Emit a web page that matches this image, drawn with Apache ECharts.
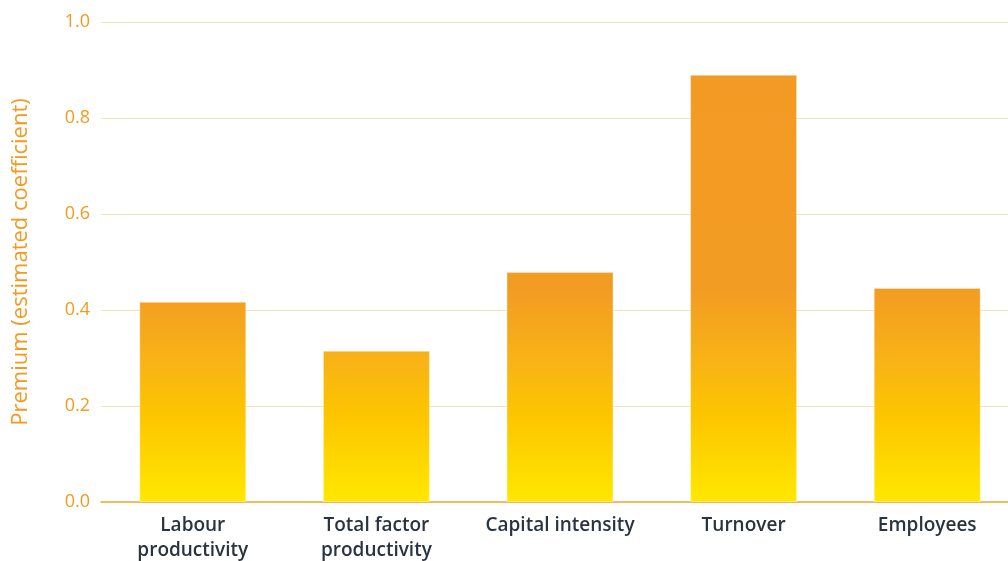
<!DOCTYPE html>
<html>
<head>
<meta charset="utf-8">
<script src="https://cdn.jsdelivr.net/npm/echarts@6/dist/echarts.min.js"></script>
<style>
  html, body { margin: 0; padding: 0; background: #ffffff; }
  #chart { width: 1008px; height: 561px; }
</style>
</head>
<body>
<div id="chart"></div>
<script>
// Estimated premium by firm indicator
const categories = ['Labour\nproductivity', 'Total factor\nproductivity', 'Capital intensity', 'Turnover', 'Employees'];
const premium = [0.417, 0.315, 0.479, 0.890, 0.446];

const orange = '#F39A1E';
const fontFamily = '"Open Sans", "Noto Sans", sans-serif';

const chart = echarts.init(document.getElementById('chart'));

// One gradient across the whole plot height, shared by all bars
const plotTop = 22, plotBottom = 502;
const barFill = new echarts.graphic.LinearGradient(0, plotTop, 0, plotBottom, [
  { offset: 0, color: '#F39A24' },
  { offset: 0.56, color: '#F39C23' },
  { offset: 0.72, color: '#F9B514' },
  { offset: 0.82, color: '#FDC500' },
  { offset: 1, color: '#FFE800' }
], true);

chart.setOption({
  animation: false,
  grid: {
    left: 101, right: -11, top: plotTop, bottom: 561 - plotBottom,
    containLabel: false,
    outerBoundsMode: 'none'
  },
  xAxis: {
    type: 'category',
    data: categories,
    axisLine: { lineStyle: { color: '#F5A93A', width: 1.5 } },
    axisTick: { show: false },
    axisLabel: {
      color: '#2A3340',
      fontFamily: fontFamily,
      fontSize: 19,
      fontWeight: 600,
      lineHeight: 25,
      margin: 11,
      interval: 0
    }
  },
  yAxis: {
    type: 'value',
    min: 0,
    max: 1,
    interval: 0.2,
    name: 'Premium (estimated coefficient)',
    nameLocation: 'middle',
    nameGap: 69,
    nameTextStyle: { color: orange, fontFamily: fontFamily, fontSize: 22, fontWeight: 500 },
    axisLine: { show: false },
    axisTick: { show: false },
    axisLabel: {
      color: orange,
      fontFamily: fontFamily,
      fontSize: 18,
      margin: 11,
      formatter: v => v.toFixed(1)
    },
    splitLine: { lineStyle: { color: '#FBE0B4', width: 1 } }
  },
  series: [{
    type: 'bar',
    data: premium,
    barWidth: 107,
    itemStyle: {
      color: barFill,
      borderColor: 'rgba(255,255,255,0.35)',
      borderWidth: 1
    }
  }]
});
</script>
</body>
</html>
